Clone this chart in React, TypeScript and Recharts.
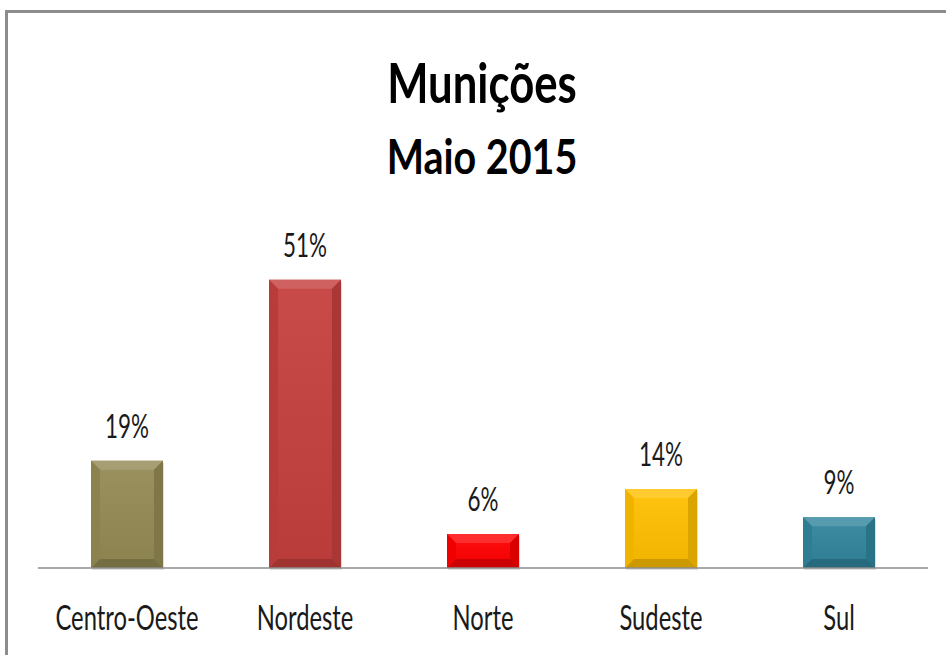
import React from 'react';
import { BarChart, Bar, XAxis, YAxis, LabelList } from 'recharts';

const regions = ['Centro-Oeste', 'Nordeste', 'Norte', 'Sudeste', 'Sul'];
const shares = [19, 51, 6, 14, 9];
const barColors = ['#948A54', '#C5403E', '#FF0000', '#FFC000', '#31859C'];

const titleLines = ['Munições', 'Maio 2015'];

const data = regions.map((name, i) => ({ name, value: shares[i] }));

const FONT = 'Lato, "Open Sans", sans-serif';
const SX = 0.68;

// blend a hex colour toward another one
const mix = (a: string, b: string, t: number) => {
  const pa = [1, 3, 5].map((i) => parseInt(a.slice(i, i + 2), 16));
  const pb = [1, 3, 5].map((i) => parseInt(b.slice(i, i + 2), 16));
  const c = pa.map((v, i) => Math.round(v + (pb[i] - v) * t));
  return `rgb(${c[0]},${c[1]},${c[2]})`;
};

const BevelBar = (props: any) => {
  const x = Number(props.x);
  const y = Number(props.y);
  const w = Number(props.width);
  const h = Number(props.height);
  const i = regions.indexOf(props.payload?.name);
  const base = barColors[i] || '#888888';
  const b = Math.max(0, Math.min(9, h / 2, w / 2));
  const id = `bevelGrad${i}`;
  const pts = (arr: number[][]) => arr.map((p) => p.join(',')).join(' ');
  return (
    <g>
      <defs>
        <linearGradient id={id} x1="0" y1="0" x2="0" y2="1">
          <stop offset="0" stopColor={mix(base, '#ffffff', 0.06)} />
          <stop offset="1" stopColor={mix(base, '#000000', 0.06)} />
        </linearGradient>
      </defs>
      <path d={`M${x + 1},${y + 2}h${w}v${h}h${-w}Z`} fill="rgba(0,0,0,0.12)" />
      <path d={`M${x},${y}h${w}v${h}h${-w}Z`} fill={`url(#${id})`} />
      <polygon
        points={pts([[x, y], [x + w, y], [x + w - b, y + b], [x + b, y + b]])}
        fill={mix(base, '#ffffff', 0.18)}
      />
      <polygon
        points={pts([[x, y], [x + b, y + b], [x + b, y + h - b], [x, y + h]])}
        fill={mix(base, '#000000', 0.06)}
      />
      <polygon
        points={pts([[x + w, y], [x + w - b, y + b], [x + w - b, y + h - b], [x + w, y + h]])}
        fill={mix(base, '#000000', 0.14)}
      />
      <polygon
        points={pts([[x, y + h], [x + b, y + h - b], [x + w - b, y + h - b], [x + w, y + h]])}
        fill={mix(base, '#000000', 0.2)}
      />
    </g>
  );
};

const CategoryTick = (props: any) => {
  const { x, y, payload } = props;
  return (
    <text
      transform={`translate(${x},${y + 54}) scale(${SX},1)`}
      textAnchor="middle"
      fontFamily={FONT}
      fontSize={35}
      fill="#1a1a1a"
    >
      {payload.value}
    </text>
  );
};

const ValueLabel = (props: any) => {
  const { x, y, width, value } = props;
  return (
    <text
      transform={`translate(${Number(x) + Number(width) / 2},${Number(y) - 23}) scale(${SX},1)`}
      textAnchor="middle"
      fontFamily={FONT}
      fontSize={33}
      fill="#1a1a1a"
    >
      {value}%
    </text>
  );
};

export default function App() {
  return (
    <div style={{ position: 'absolute', left: 0, top: 0, width: 946, height: 655, background: '#fff' }}>
      <div
        style={{
          position: 'absolute',
          left: 5,
          top: 10,
          width: 941,
          height: 645,
          borderTop: '3px solid #8c8c8c',
          borderLeft: '3px solid #8c8c8c',
        }}
      />
      <svg width={946} height={200} style={{ position: 'absolute', left: 0, top: 0 }}>
        <text
          transform={`translate(482,103) scale(0.78,1)`}
          textAnchor="middle"
          fontFamily={FONT}
          fontWeight="bold"
          fontSize={56}
          fill="#000"
        >
          {titleLines[0]}
        </text>
        <text
          transform={`translate(482,174) scale(0.84,1)`}
          textAnchor="middle"
          fontFamily={FONT}
          fontWeight="bold"
          fontSize={47}
          fill="#000"
        >
          {titleLines[1]}
        </text>
      </svg>
      <div style={{ position: 'absolute', left: 0, top: 0 }}>
        <BarChart
          width={946}
          height={655}
          data={data}
          margin={{ top: 229, right: 18, left: 38, bottom: 27 }}
          barCategoryGap={53}
        >
          <XAxis
            dataKey="name"
            height={60}
            tickLine={false}
            axisLine={{ stroke: '#8c8c8c', strokeWidth: 1.5 }}
            tick={<CategoryTick />}
            interval={0}
          />
          <YAxis hide width={0} domain={[0, 60]} />
          <Bar dataKey="value" isAnimationActive={false} shape={<BevelBar />}>
            <LabelList dataKey="value" content={<ValueLabel />} />
          </Bar>
        </BarChart>
      </div>
    </div>
  );
}
